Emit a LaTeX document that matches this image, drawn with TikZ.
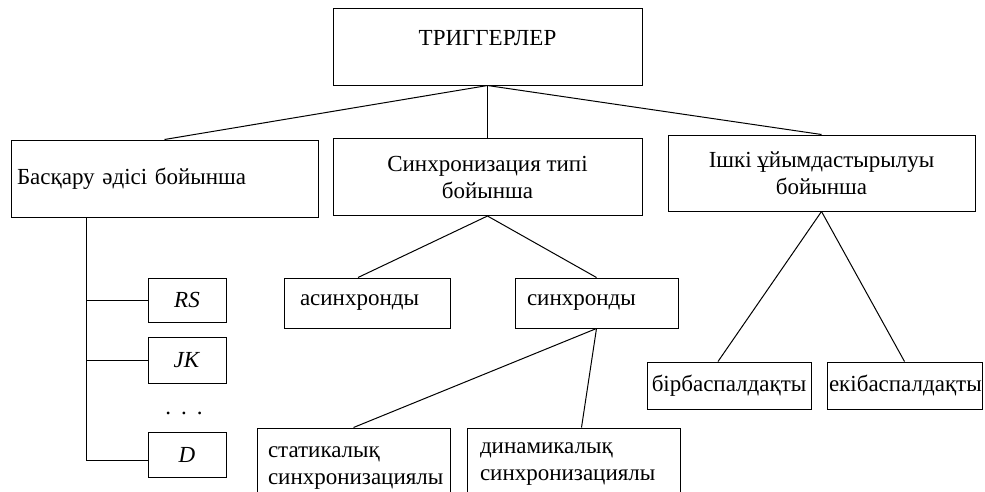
\documentclass[tikz,border=0pt]{standalone}
\usepackage{fontspec}
\setmainfont{Liberation Serif}
\usetikzlibrary{calc}

\begin{document}
\begin{tikzpicture}[x=1pt,y=-1pt,
    box/.style={draw, line width=1pt, inner sep=0pt, font=\fontsize{23}{27}\selectfont},
    link/.style={line width=1pt}]
            \useasboundingbox (0,0) rectangle (985,491);
            \clip (0,0) rectangle (985,491);

            % top level
            \node[box, minimum width=309pt, minimum height=77pt, text height=14pt, text depth=16pt] (trig) at (487.5,46.5) {ТРИГГЕРЛЕР};

            % second level
            \node[box, minimum height=77pt, text width=295pt, inner xsep=6pt, align=left] (ctrl) at (164.5,178.5) {Басқару әдісі бойынша};
            \node[box, minimum width=309pt, minimum height=77pt, align=center] (sync) at (487.5,177) {Синхронизация типі\\бойынша};
            \node[box, minimum width=307pt, minimum height=76pt, align=center] (inner) at (821.5,173) {Ішкі ұйымдастырылуы\\бойынша};

            \draw[link] (trig.south) -- (ctrl.north);
            \draw[link] (trig.south) -- (sync.north);
            \draw[link] (trig.south) -- (inner.north);

            % by control method
            \node[box, minimum width=78pt, minimum height=44pt] (rs) at (187,300) {\textit{RS}};
            \node[box, minimum width=78pt, minimum height=46pt] (jk) at (187,360) {\textit{JK}};
            \node[font=\fontsize{23}{27}\selectfont, inner sep=0pt] (dots) at (184,413) {.\hspace{10pt}.\hspace{10pt}.};
            \node[box, minimum width=78pt, minimum height=45pt] (d) at (187,454.5) {\textit{D}};

            \coordinate (trunk) at ($(ctrl.south west)+(76,0)$);
            \draw[link] (trunk) |- ($(d.west)+(0,5.5)$);
            \foreach \b in {rs,jk} {
                \draw[link] (trunk |- \b.west) -- (\b.west);
            }

            % by synchronisation type
            \node[box, minimum height=50pt, text width=134pt, inner xsep=16pt, align=left] (asyn) at (367,303) {асинхронды};
            \node[box, minimum height=50pt, text width=139pt, inner xsep=12pt, align=left] (syn) at (596.5,303) {синхронды};
            \node[box, minimum height=80pt, text width=171pt, inner xsep=11pt, align=left] (stat) at (353.5,468) {статикалық\\синхронизациялы};
            \node[box, minimum height=72pt, text width=187pt, inner xsep=13pt, align=left] (dyn) at (573.5,464) {динамикалық\\синхронизациялы};

            \draw[link] (sync.south) -- ([xshift=-9pt]asyn.north);
            \draw[link] (sync.south) -- (syn.north);
            \draw[link] (syn.south) -- (stat.north);
            \draw[link] (syn.south) -- ([xshift=8pt]dyn.north);

            % by inner structure
            \node[box, minimum width=164pt, minimum height=47pt] (bir) at (729,385.5) {бірбаспалдақты};
            \node[box, minimum height=47pt, text width=151pt, inner xsep=2pt, align=left] (eki) at (904.5,385.5) {екібаспалдақты};

            \draw[link] (inner.south) -- ([xshift=-11pt]bir.north);
            \draw[link] (inner.south) -- (eki.north);
        \end{tikzpicture}
\end{document}
